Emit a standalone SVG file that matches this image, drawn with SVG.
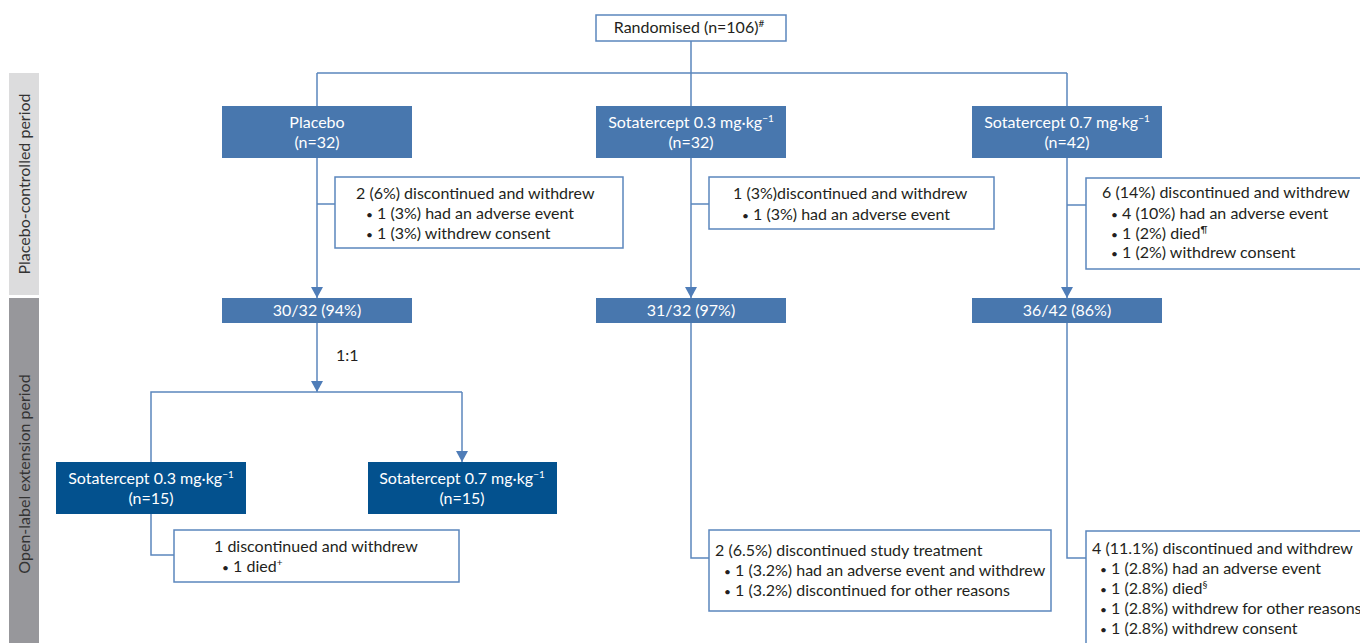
<svg xmlns="http://www.w3.org/2000/svg" width="1360" height="643" viewBox="0 0 1360 643">
<style>
text{font-family:Lato,"Source Sans Pro","Liberation Sans",sans-serif;font-size:16px;fill:#231f20}
.w{fill:#ffffff}
.c{text-anchor:middle}
.blue{fill:#4877ae}
.dark{fill:#03518e}
.box{fill:#ffffff;stroke:#5b86bd;stroke-width:1.5}
.ln{fill:none;stroke:#5b86bd;stroke-width:1.5}
.sup{font-size:10px}
.b{font-size:12px}
</style>
<defs>
<marker id="ad" markerUnits="userSpaceOnUse" markerWidth="12" markerHeight="12" refX="11" refY="6" orient="auto" viewBox="0 0 12 12">
<path d="M0,0 L11,6 L0,12 Z" fill="#4f7db8"/>
</marker>
</defs>

<g id="period-bars">
<rect x="9" y="73" width="30" height="222" fill="#dcdcdd"/>
<rect x="9" y="298" width="30" height="345" fill="#97979b"/>
<text transform="translate(30,184) rotate(-90)" class="c" style="fill:#333">Placebo-controlled period</text>
<text transform="translate(30,474) rotate(-90)" class="c" style="fill:#333">Open-label extension period</text>
</g>

<g id="connectors">
<path class="ln" d="M691,41 V73 M317,73 H1067 M317,73 V106 M691,73 V106 M1067,73 V106"/>
<path class="ln" d="M317,158 V298" marker-end="url(#ad)"/>
<path class="ln" d="M691,158 V298" marker-end="url(#ad)"/>
<path class="ln" d="M1067,158 V298" marker-end="url(#ad)"/>
<path class="ln" d="M317,204 H335 M691,204 H709 M1067,205 H1086"/>
<path class="ln" d="M317,323 V392" marker-end="url(#ad)"/>
<path class="ln" d="M151,462 V392 H462"/>
<path class="ln" d="M462,392 V462" marker-end="url(#ad)"/>
<path class="ln" d="M151,514 V555 H174"/>
<path class="ln" d="M691,323 V558 H709"/>
<path class="ln" d="M1067,323 V558 H1086"/>
<text x="336" y="361">1:1</text>
</g>

<g id="randomised">
<rect class="box" x="596" y="15" width="190" height="26"/>
<text x="689" y="33" class="c">Randomised (n=106)<tspan class="sup" dy="-6">#</tspan></text>
</g>

<g id="placebo">
<rect class="blue" x="222" y="106" width="190" height="52"/>
<text x="317" y="128" class="c w">Placebo</text>
<text x="317" y="148" class="c w">(n=32)</text>
</g>
<g id="sota03">
<rect class="blue" x="596" y="106" width="190" height="52"/>
<text x="691" y="128" class="c w">Sotatercept 0.3 mg·kg<tspan class="sup" dy="-6">−1</tspan></text>
<text x="691" y="148" class="c w">(n=32)</text>
</g>
<g id="sota07">
<rect class="blue" x="972" y="106" width="190" height="52"/>
<text x="1067" y="128" class="c w">Sotatercept 0.7 mg·kg<tspan class="sup" dy="-6">−1</tspan></text>
<text x="1067" y="148" class="c w">(n=42)</text>
</g>

<g id="placebo-disc">
<rect class="box" x="335" y="177" width="288" height="71"/>
<text x="356" y="199">2 (6%) discontinued and withdrew</text>
<text x="366" y="219"><tspan class="b">•</tspan> 1 (3%) had an adverse event</text>
<text x="366" y="239"><tspan class="b">•</tspan> 1 (3%) withdrew consent</text>
</g>
<g id="sota03-disc">
<rect class="box" x="709" y="177" width="285" height="52"/>
<text x="733" y="199">1 (3%)discontinued and withdrew</text>
<text x="742" y="220"><tspan class="b">•</tspan> 1 (3%) had an adverse event</text>
</g>
<g id="sota07-disc">
<rect class="box" x="1086" y="178" width="284" height="91"/>
<text x="1102" y="198">6 (14%) discontinued and withdrew</text>
<text x="1111" y="219"><tspan class="b">•</tspan> 4 (10%) had an adverse event</text>
<text x="1111" y="239"><tspan class="b">•</tspan> 1 (2%) died<tspan class="sup" dy="-6">¶</tspan></text>
<text x="1111" y="258"><tspan class="b">•</tspan> 1 (2%) withdrew consent</text>
</g>

<g id="placebo-result">
<rect class="blue" x="222" y="298" width="190" height="25"/>
<text x="317" y="316" class="c w">30/32 (94%)</text>
</g>
<g id="sota03-result">
<rect class="blue" x="596" y="298" width="190" height="25"/>
<text x="691" y="316" class="c w">31/32 (97%)</text>
</g>
<g id="sota07-result">
<rect class="blue" x="972" y="298" width="190" height="25"/>
<text x="1067" y="316" class="c w">36/42 (86%)</text>
</g>

<g id="ole03">
<rect class="dark" x="56" y="462" width="190" height="52"/>
<text x="151" y="484" class="c w">Sotatercept 0.3 mg·kg<tspan class="sup" dy="-6">−1</tspan></text>
<text x="151" y="504" class="c w">(n=15)</text>
</g>
<g id="ole07">
<rect class="dark" x="368" y="462" width="189" height="52"/>
<text x="462" y="484" class="c w">Sotatercept 0.7 mg·kg<tspan class="sup" dy="-6">−1</tspan></text>
<text x="462" y="504" class="c w">(n=15)</text>
</g>

<g id="ole03-disc">
<rect class="box" x="174" y="530" width="285" height="52"/>
<text x="214" y="552">1 discontinued and withdrew</text>
<text x="222" y="572"><tspan class="b">•</tspan> 1 died<tspan class="sup" dy="-6">+</tspan></text>
</g>
<g id="sota03-ole-disc">
<rect class="box" x="709" y="530" width="342" height="81"/>
<text x="715" y="556">2 (6.5%) discontinued study treatment</text>
<text x="724" y="576"><tspan class="b">•</tspan> 1 (3.2%) had an adverse event and withdrew</text>
<text x="724" y="596"><tspan class="b">•</tspan> 1 (3.2%) discontinued for other reasons</text>
</g>
<g id="sota07-ole-disc">
<rect class="box" x="1086" y="531" width="284" height="120"/>
<text x="1092" y="554">4 (11.1%) discontinued and withdrew</text>
<text x="1100" y="574"><tspan class="b">•</tspan> 1 (2.8%) had an adverse event</text>
<text x="1100" y="594"><tspan class="b">•</tspan> 1 (2.8%) died<tspan class="sup" dy="-6">§</tspan></text>
<text x="1100" y="614"><tspan class="b">•</tspan> 1 (2.8%) withdrew for other reasons</text>
<text x="1100" y="634"><tspan class="b">•</tspan> 1 (2.8%) withdrew consent</text>
</g>
</svg>
